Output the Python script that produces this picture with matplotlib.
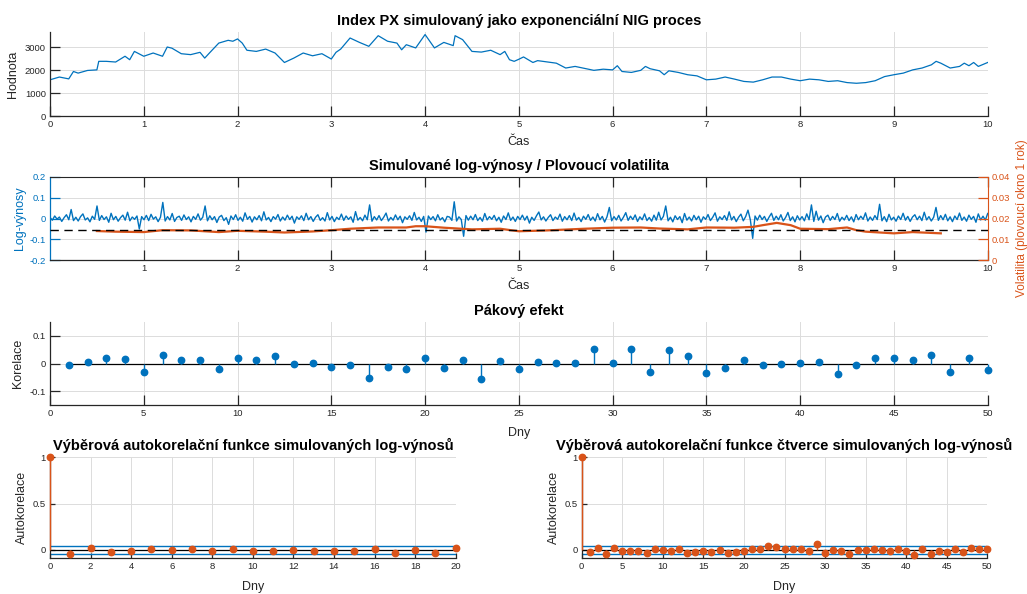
import numpy as np
import matplotlib.pyplot as plt

plt.rcParams["font.family"] = ["Liberation Sans", "DejaVu Sans"]

MODRA = "#0072BD"
ORANZ = "#D95319"
SEDA = "#262626"
MRIZKA = "#DCDCDC"

# cena indexu
cas_cena = [0.0, 0.1, 0.2, 0.25, 0.3, 0.4, 0.5, 0.52, 0.6, 0.7, 0.8, 0.85, 0.9, 1.0,
            1.1, 1.2, 1.25, 1.3, 1.4, 1.5, 1.6, 1.65, 1.7, 1.8, 1.9, 1.95, 2.0, 2.05,
            2.1, 2.2, 2.3, 2.4, 2.5, 2.6, 2.7, 2.8, 2.9, 3.0, 3.05, 3.1, 3.2, 3.3,
            3.4, 3.5, 3.6, 3.7, 3.75, 3.8, 3.9, 4.0, 4.05, 4.1, 4.2, 4.3, 4.32, 4.4,
            4.5, 4.6, 4.7, 4.8, 4.85, 4.9, 4.95, 5.0, 5.05, 5.15, 5.2, 5.4, 5.5, 5.6,
            5.8, 5.9, 6.0, 6.05, 6.1, 6.2, 6.3, 6.35, 6.4, 6.5, 6.55, 6.6, 6.7, 6.8,
            6.9, 7.0, 7.1, 7.2, 7.3, 7.4, 7.5, 7.6, 7.7, 7.8, 7.9, 8.0, 8.1, 8.2,
            8.3, 8.4, 8.5, 8.6, 8.7, 8.8, 8.9, 9.0, 9.1, 9.2, 9.3, 9.4, 9.45, 9.5,
            9.6, 9.7, 9.75, 9.8, 9.85, 9.9, 10.0]
cena = [1580, 1700, 1620, 1940, 1870, 1985, 2010, 2380, 2380, 2350, 2600, 2450, 2810, 2600,
        2740, 2600, 3000, 2950, 2710, 2670, 2770, 2520, 2740, 3170, 3290, 3250, 3350, 3170,
        2860, 2810, 2910, 2740, 2330, 2520, 2740, 2620, 2710, 2480, 2770, 2910, 3390, 3200,
        3030, 3490, 3250, 3170, 2880, 3100, 2960, 3540, 3250, 2960, 3200, 3060, 3490, 3320,
        2810, 2780, 2860, 2670, 2810, 2450, 2380, 2470, 2570, 2330, 2410, 2300, 2090, 2160,
        1990, 2040, 2010, 2190, 1940, 1900, 1990, 2160, 2060, 1970, 1800, 1970, 1900, 1800,
        1750, 1580, 1610, 1700, 1610, 1510, 1480, 1580, 1700, 1700, 1610, 1540, 1610, 1580,
        1510, 1540, 1460, 1430, 1460, 1540, 1720, 1800, 1870, 2010, 2090, 2230, 2380, 2300,
        2090, 2160, 2300, 2190, 2330, 2160, 2330]

# log-vynosy v tisicinach (odhad z obrazku)
vynosy_tis = [
    5, -8, 12, -3, 7, -14, 4, 18, -6, 43, -10, 6, -12, 9, 22, -7, 3, -16, 11, -4,
    60, -9, 14, -5, 8, -18, 25, -6, 10, -13, 4, 16, -8, 30, -11, 7, -4, 12, -50, 9,
    -6, 15, -10, 20, -3, 8, -15, 6, 77, -12, 9, -7, 24, -14, 5, 11, -9, 17, -5, 8,
    -16, 10, -4, 22, -8, 6, 60, -11, 13, -6, 9, -19, 7, 15, -10, 4, -28, 12, -5, 18,
    -9, 6, -13, 27, -4, 10, -17, 8, -6, 14, -11, 32, -7, 5, -15, 9, -3, 19, -12, 7,
    -8, 16, -5, 11, -22, 8, -4, 13, -10, 25, -6, 9, -14, 6, 18, -9, 4, -12, 28, -7,
    10, -15, 6, -5, 21, -9, 12, -4, 8, -18, 33, -8, 5, -11, 16, -6, 65, -13, 9, -7,
    14, -10, 6, 26, -12, 5, -8, 17, -6, 11, -20, 8, -4, 13, -9, 29, -7, 6, -14, 10,
    -65, 12, -5, 9, -11, 18, -7, 4, -16, 10, 7, -9, 80, -12, 8, -5, -85, 14, -8, 11,
    -6, 19, -10, 5, -13, 24, -7, 9, -4, 15, -11, 6, -18, 12, -5, 27, -9, 7, -14, 10,
    -5, 16, -8, 11, -22, 6, -9, 13, 31, -7, 8, -12, 5, 18, -10, 7, -4, 21, -13, 9,
    -6, 14, -10, 26, -8, 5, -15, 11, -4, 19, -9, 7, -12, 23, -6, 10, -17, 8, 53, -11,
    9, -7, 15, -12, 6, 28, -9, 11, -5, 17, -14, 8, -6, 22, -10, 5, -13, 16, -8, 30,
    -7, 10, 60, -11, 6, -16, 13, -5, 9, -20, 24, -8, 7, -12, 15, -6, 11, -18, 8, -4,
    19, -10, 6, 27, -13, 8, -5, 14, -9, 32, -7, 10, -15, 6, 21, -11, 9, 40, -6, -95,
    12, -8, 16, -5, 10, -14, 7, 25, -9, 11, -6, 18, -12, 5, 29, -10, 8, -16, 13, -7,
    9, -11, 22, -6, 65, -14, 35, -8, 12, -20, 7, 16, -9, 10, -5, 24, -13, 6, -7, 15,
    -10, 8, -16, 19, -6, 11, -4, 27, -12, 7, -9, 14, -5, 68, -11, 9, -15, 20, -7, 6,
    -13, 12, -5, 25, -8, 10, -14, 7, 18, -6, 11, -10, 30, -7, 9, -12, 6, 53, -9, 14,
    -6, 20, -11, 8, -15, 12, -5, 26, -9, 7, -13, 16, -4, 10, -18, 22, -7, 11, -8, 24,
]

# plovouci volatilita
cas_vol = [0.5, 0.7, 1.0, 1.2, 1.5, 1.8, 2.0, 2.3, 2.5, 2.8, 3.0, 3.2, 3.5, 3.8, 3.9,
           4.0, 4.2, 4.5, 4.8, 5.0, 5.3, 5.7, 6.0, 6.3, 6.5, 6.8, 7.0, 7.3, 7.5, 7.6,
           7.75, 7.9, 8.0, 8.3, 8.5, 8.6, 8.7, 9.0, 9.2, 9.5]
volatilita = [0.0140, 0.0137, 0.0135, 0.0144, 0.0143, 0.0135, 0.0141, 0.0137, 0.0133,
              0.0138, 0.0144, 0.0151, 0.0157, 0.0157, 0.0163, 0.0163, 0.0156, 0.0148,
              0.0151, 0.0139, 0.0143, 0.0151, 0.0156, 0.0157, 0.0152, 0.0148, 0.0157,
              0.0156, 0.0160, 0.0168, 0.0179, 0.0168, 0.0151, 0.0149, 0.0157, 0.0144,
              0.0137, 0.0129, 0.0135, 0.0129]
vol_celkova = 0.0145

# pakovy efekt, zpozdeni 1..50
pakovy = [-0.004, 0.004, 0.021, 0.015, -0.032, 0.031, 0.013, 0.013, -0.019, 0.018,
          0.013, 0.027, -0.001, 0.001, -0.014, -0.007, -0.051, -0.013, -0.019, 0.018,
          -0.017, 0.013, -0.055, 0.010, -0.021, 0.004, 0.001, 0.001, 0.051, 0.001,
          0.051, -0.029, 0.048, 0.027, -0.035, -0.017, 0.013, -0.005, -0.001, 0.001,
          0.007, -0.037, -0.005, 0.021, 0.021, 0.013, 0.031, -0.032, 0.018, -0.025]

# ACF log-vynosu, zpozdeni 0..20
acf_vynosy = [1.0, -0.043, 0.025, -0.018, -0.007, 0.014, 0.0, 0.014, -0.014, 0.007,
              -0.014, -0.007, 0.0, -0.007, -0.007, -0.014, 0.007, -0.029, 0.0, -0.029, 0.025]

# ACF ctvercu log-vynosu, zpozdeni 0..50
acf_ctverce = [1.0, -0.018, 0.025, -0.040, 0.025, -0.007, -0.007, -0.007, -0.036, 0.014,
               0.0, -0.007, 0.014, -0.029, -0.018, -0.014, -0.018, 0.0, -0.029, -0.018,
               -0.014, 0.014, 0.007, 0.043, 0.036, 0.007, 0.007, 0.007, -0.007, 0.065,
               -0.029, 0.0, -0.007, -0.040, 0.0, 0.0, 0.007, 0.0, -0.007, 0.007,
               -0.014, -0.050, 0.007, -0.040, -0.007, -0.025, 0.007, -0.018, 0.025, 0.014, 0.007]
mez = 0.04


def styl(ax, delka=7, levy_x=-0.035, dolni_y=-0.24):
    ax.grid(True, color=MRIZKA, linewidth=0.7)
    ax.set_axisbelow(True)
    for s in ["top", "right"]:
        ax.spines[s].set_visible(False)
    for s in ["left", "bottom"]:
        ax.spines[s].set_color(SEDA)
        ax.spines[s].set_linewidth(0.9)
    ax.tick_params(direction="in", length=delka, width=0.9, labelsize=6.8,
                   colors=SEDA, pad=3)
    ax.yaxis.set_label_coords(levy_x, 0.5)
    ax.xaxis.set_label_coords(0.5, dolni_y)


def stemy(ax, x, y, barva):
    m, s, b = ax.stem(x, y, linefmt="-", markerfmt="o", basefmt="-")
    plt.setp(s, color=barva, linewidth=1.0, clip_on=False, zorder=4)
    plt.setp(m, color=barva, markersize=4.6, clip_on=False, zorder=5)
    plt.setp(b, color="black", linewidth=0.9, zorder=3)


def main():
    fig = plt.figure(figsize=(10.27, 5.94), dpi=100)
    W, H = 1027, 594

    def osa(x0, x1, y0, y1):
        return fig.add_axes([x0 / W, 1 - y1 / H, (x1 - x0) / W, (y1 - y0) / H])

    ax1 = osa(50, 987.7, 32, 116.3)
    ax2 = osa(50, 987.7, 176.7, 260.3)
    ax3 = osa(50, 987.7, 321.7, 405.3)
    ax4 = osa(50, 455.7, 457.3, 558.3)
    ax5 = osa(581.7, 987.3, 457.3, 558.3)

    titul = dict(fontsize=10.5, fontweight="bold", pad=5)
    popis = dict(fontsize=9, color=SEDA)

    # 1) cena
    ax1.plot(cas_cena, cena, color=MODRA, linewidth=0.9)
    ax1.set_xlim(0, 10)
    ax1.set_ylim(0, 3650)
    ax1.set_xticks(range(0, 11))
    ax1.set_yticks([0, 1000, 2000, 3000])
    ax1.set_title("Index PX simulovaný jako exponenciální NIG proces", **titul)
    ax1.set_xlabel("Čas", **popis)
    ax1.set_ylabel("Hodnota", **popis)
    styl(ax1, 7, -0.033, -0.235)

    # 2) log-vynosy a volatilita
    cas_v = np.linspace(0, 10, len(vynosy_tis))
    ax2.plot(cas_v, np.array(vynosy_tis) / 1000, color=MODRA, linewidth=1.0)
    ax2.set_xlim(0, 10)
    ax2.set_ylim(-0.2, 0.2)
    ax2.set_xticks(range(1, 11))
    ax2.set_yticks([-0.2, -0.1, 0, 0.1, 0.2])
    ax2.set_yticklabels(["-0.2", "-0.1", "0", "0.1", "0.2"])
    ax2.set_title("Simulované log-výnosy / Plovoucí volatilita", **titul)
    ax2.set_xlabel("Čas", **popis)
    ax2.set_ylabel("Log-výnosy", fontsize=9, color=MODRA)
    styl(ax2, 7, -0.026, -0.24)
    ax2.spines["top"].set_visible(True)
    ax2.spines["top"].set_color(SEDA)
    ax2.tick_params(axis="x", top=True)
    ax2.tick_params(axis="y", colors=MODRA)
    ax2.spines["left"].set_color(MODRA)

    ax2r = ax2.twinx()
    ax2r.plot(cas_vol, volatilita, color=ORANZ, linewidth=1.6)
    ax2r.axhline(vol_celkova, color="black", linestyle=(0, (6, 4)), linewidth=1.0)
    ax2r.set_ylim(0, 0.04)
    ax2r.set_yticks([0, 0.01, 0.02, 0.03, 0.04])
    ax2r.set_yticklabels(["0", "0.01", "0.02", "0.03", "0.04"])
    ax2r.tick_params(direction="in", length=7, width=0.9, labelsize=6.8, colors=ORANZ, pad=3)
    for s in ["left", "top", "bottom"]:
        ax2r.spines[s].set_visible(False)
    ax2r.spines["right"].set_color(ORANZ)
    ax2r.set_ylabel("Volatilita (plovoucí okno 1 rok)", fontsize=8.5, color=ORANZ)
    ax2r.yaxis.set_label_coords(1.03, 0.5)

    # 3) pakovy efekt
    stemy(ax3, np.arange(1, len(pakovy) + 1), pakovy, MODRA)
    ax3.set_xlim(0, 50)
    ax3.set_ylim(-0.15, 0.15)
    ax3.set_xticks(range(0, 51, 5))
    ax3.set_yticks([-0.1, 0, 0.1])
    ax3.set_yticklabels(["-0.1", "0", "0.1"])
    ax3.set_title("Pákový efekt", **titul)
    ax3.set_xlabel("Dny", **popis)
    ax3.set_ylabel("Korelace", **popis)
    styl(ax3, 7, -0.028, -0.26)

    # 4) a 5) ACF
    for ax, acf, kroky in [(ax4, acf_vynosy, 2), (ax5, acf_ctverce, 5)]:
        stemy(ax, np.arange(len(acf)), acf, ORANZ)
        ax.axhline(mez, color=MODRA, linewidth=1.0)
        ax.axhline(-mez, color=MODRA, linewidth=1.0)
        ax.set_xlim(0, len(acf) - 1)
        ax.set_ylim(-0.09, 1)
        ax.set_xticks(range(0, len(acf), kroky))
        ax.set_yticks([0, 0.5, 1])
        ax.set_yticklabels(["0", "0.5", "1"])
        ax.set_xlabel("Dny", **popis)
        ax.set_ylabel("Autokorelace", **popis)
        styl(ax, 3.5, -0.054, -0.225)
    ax4.set_title("Výběrová autokorelační funkce simulovaných log-výnosů", **titul)
    ax5.set_title("Výběrová autokorelační funkce čtverce simulovaných log-výnosů", **titul)

    plt.savefig("out.png", dpi=100)


if __name__ == "__main__":
    main()
